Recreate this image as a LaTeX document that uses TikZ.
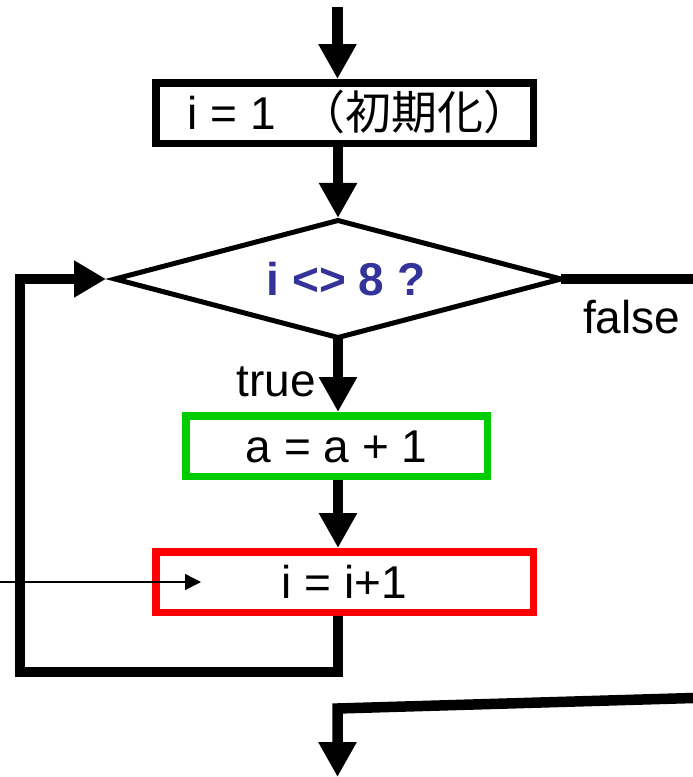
\documentclass[tikz,border=0pt]{standalone}
\usepackage{fontspec}
\setmainfont{Liberation Sans}
\newfontfamily\cjk{Noto Sans CJK JP}
\usetikzlibrary{arrows.meta,calc}
\definecolor{dblue}{HTML}{333399}
\definecolor{pgreen}{HTML}{00CC00}
\definecolor{pred}{HTML}{FF0000}
\begin{document}
\begin{tikzpicture}[x=1pt,y=-1pt,
  every node/.style={font=\fontsize{46}{50}\selectfont, inner sep=0pt, outer sep=0pt},
  procbox/.style={draw=#1, line width=7.5pt, outer sep=3.75pt, minimum height=60.5pt,
                  text height=33pt, text depth=0pt},
  conn/.style={line width=10.5pt, line join=miter},
  bigarrow/.style={conn, -{Triangle[length=35pt,width=36pt]}},
  loopstyle/.style={conn, -{Triangle[length=32pt,width=35pt]}},
  thinarrow/.style={line width=1.5pt, -{Triangle[length=16pt,width=16pt]}},
  decision/.style={line width=5pt, line join=miter, miter limit=20}
]
\useasboundingbox (0,0) rectangle (693,777);

% nodes
\node[procbox=black, minimum width=377.5pt] (b1) at (344.5,113)
  {\hspace{28pt}i = 1\hspace{23pt}{\cjk （初期化）}\hspace{-24pt}};
\node[minimum width=446pt, minimum height=117pt, text height=33pt, text depth=0pt,
      text=dblue, font=\fontsize{46}{50}\selectfont\bfseries] (d) at (338,279)
  {\hspace{16pt}i <> 8 ?};
\draw[decision] (d.north) -- (d.east) -- (d.south) -- (d.west) -- cycle;
\node[procbox=pgreen, minimum width=301.5pt] (g) at (336.5,446) {a = a + 1};
\node[procbox=pred, minimum width=377.5pt] (r) at (344.5,582) {i = i+1};

\node[anchor=base east] (tl) at (316,396) {true};
\node[anchor=base west] (fl) at (583,333) {false};

% free ends
\coordinate (tin) at (337.5,7);
\coordinate (fexit) at (693,279);
\coordinate (lpc) at (20,672);
\coordinate (bin) at (693,698);
\coordinate (bcor) at (337.5,708.5);
\coordinate (bout) at (337.5,777);
\coordinate (thin) at (0,582);

% connectors
\draw[bigarrow] (tin) -- (tin |- b1.north);
\draw[bigarrow, shorten >=2.6pt] (b1.south -| d.north) -- (d.north);
\draw[bigarrow] (d.south) -- (d.south |- g.north);
\draw[bigarrow] (g.south -| d.south) -- (d.south |- r.north);
\draw[loopstyle, shorten >=9pt] (r.south -| d.south) |- (lpc) |- (d.west);
\draw[conn] (d.east) -- (fexit);
\draw[bigarrow] (bin) -- (bcor) -- (bout);
\draw[thinarrow] (thin) -- ($(r.west)+(49,0)$);
\end{tikzpicture}
\end{document}
